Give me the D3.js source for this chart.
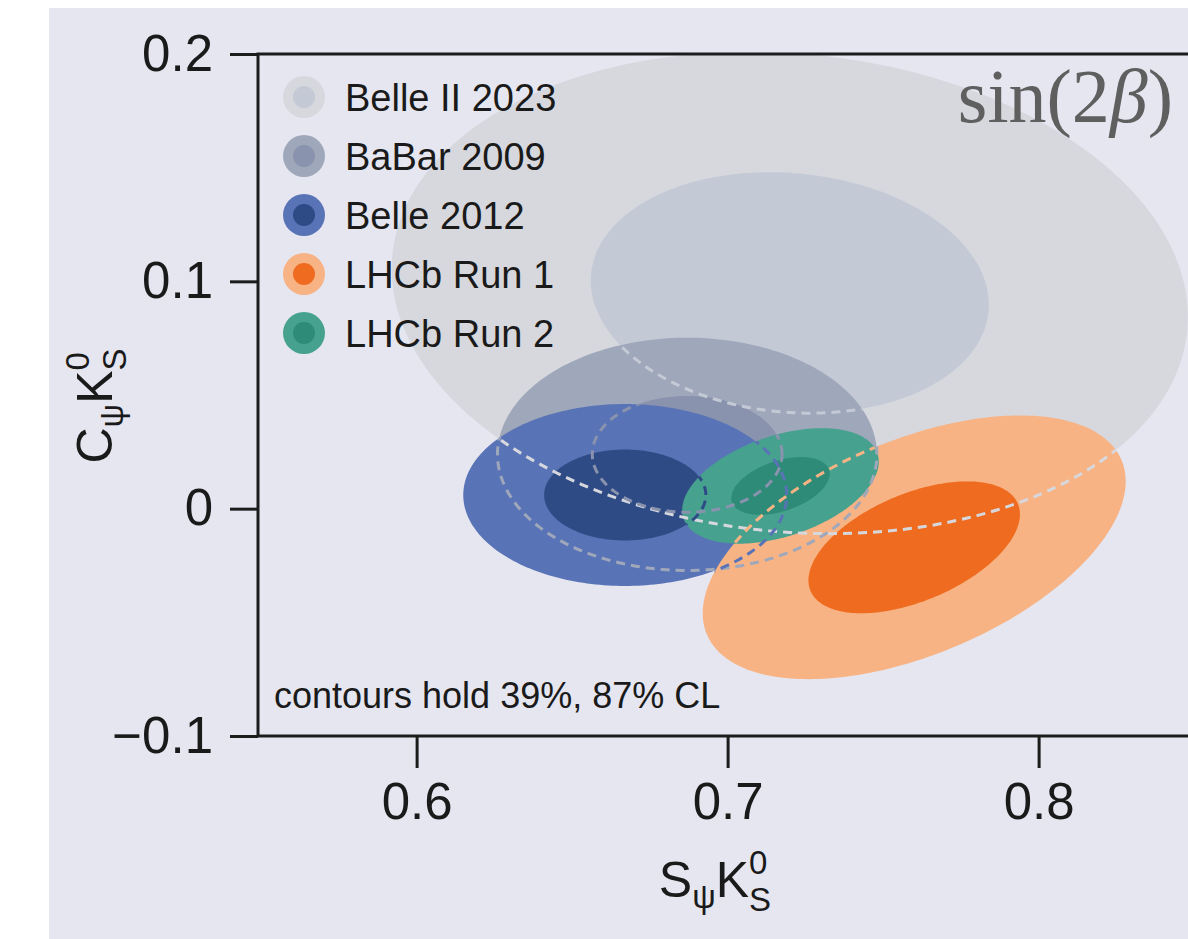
<!DOCTYPE html>
<html>
<head>
<meta charset="utf-8">
<script src="https://cdn.jsdelivr.net/npm/d3@7"></script>
<style>
  html, body { margin: 0; padding: 0; background: #ffffff; }
  svg { display: block; }
</style>
</head>
<body>
<svg id="chart" width="1188" height="939"></svg>
<script>
// Measurements of the time-dependent CP asymmetry in B0 -> (cc̄) K0S
const experiments = ["Belle II 2023", "BaBar 2009", "Belle 2012", "LHCb Run 1", "LHCb Run 2"];
const sCentre = [0.720, 0.687, 0.667, 0.760, 0.717];
const cCentre = [0.095, 0.024, 0.006, -0.017, 0.010];
const sSigma  = [0.064, 0.0305, 0.026, 0.034, 0.0158];
const cSigma  = [0.053, 0.0256, 0.020, 0.029, 0.0127];
const rhoSC   = [-0.10, 0.0, 0.0, 0.50, 0.42];

// 39% and 87% CL contours of a 2D Gaussian: 1 and 2 standard deviations
const contourLevels = [2, 1];

const outerFill = ["#d7d8de", "#9fa7ba", "#5973b7", "#f8b384", "#46a18f"];
const innerFill = ["#c4c9d6", "#8a93ae", "#2f4b86", "#ee6b1f", "#2e8b78"];

const xTicks = [0.6, 0.7, 0.8];
const yTicks = [-0.1, 0, 0.1, 0.2];
const yTickLabels = ["\u22120.1", "0", "0.1", "0.2"];
const xTickLabels = ["0.6", "0.7", "0.8"];

const svg = d3.select("#chart");
const W = 1188, H = 939;

// page background
svg.append("rect").attr("x", 0).attr("y", 0).attr("width", W).attr("height", H).attr("fill", "#ffffff");
svg.append("rect").attr("x", 49).attr("y", 8).attr("width", W - 49).attr("height", H - 8).attr("fill", "#e5e6f0");

const x = d3.scaleLinear().domain([0.549, 0.85]).range([258, 258 + 0.301 * 3110]);
const y = d3.scaleLinear().domain([-0.1, 0.2]).range([736, 54]);

const plotL = x(0.549), plotR = x(0.85), plotT = y(0.2), plotB = y(-0.1);

const defs = svg.append("defs");
defs.append("clipPath").attr("id", "plot-area")
  .append("rect").attr("x", plotL).attr("y", plotT).attr("width", plotR - plotL).attr("height", plotB - plotT);

// contour points in (S, C) space
function contourPoints(i, k) {
  const r = rhoSC[i], q = Math.sqrt(1 - r * r);
  const pts = [];
  const n = 240;
  for (let j = 0; j < n; j++) {
    const t = 2 * Math.PI * j / n;
    pts.push([
      sCentre[i] + k * sSigma[i] * Math.cos(t),
      cCentre[i] + k * cSigma[i] * (r * Math.cos(t) + q * Math.sin(t))
    ]);
  }
  return pts;
}

const line = d3.line().x(d => x(d[0])).y(d => y(d[1])).curve(d3.curveLinearClosed);

// draw order: each experiment's outer then inner contour
const contours = [];
experiments.forEach((name, i) => {
  contourLevels.forEach((k, li) => {
    contours.push({ exp: i, k, fill: li === 0 ? outerFill[i] : innerFill[i], d: line(contourPoints(i, k)) });
  });
});

const plot = svg.append("g").attr("clip-path", "url(#plot-area)");

plot.selectAll("path.fill").data(contours).join("path")
  .attr("class", "fill")
  .attr("d", d => d.d)
  .attr("fill", d => d.fill);

// hidden parts of every contour are traced with a dashed outline
contours.forEach((c, i) => {
  const later = contours.slice(i + 1);
  if (!later.length) return;
  const cp = defs.append("clipPath").attr("id", "cover-" + i);
  later.forEach(l => cp.append("path").attr("d", l.d));
  plot.append("g").attr("clip-path", "url(#cover-" + i + ")")
    .append("path")
    .attr("d", c.d)
    .attr("fill", "none")
    .attr("stroke", c.fill)
    .attr("stroke-width", 3)
    .attr("stroke-dasharray", "9 6");
});

// frame
svg.append("rect")
  .attr("x", plotL).attr("y", plotT)
  .attr("width", plotR - plotL).attr("height", plotB - plotT)
  .attr("fill", "none").attr("stroke", "#1c1c1c").attr("stroke-width", 3);

const fontSans = "'Liberation Sans', Arial, Helvetica, sans-serif";

const yAxis = svg.append("g").attr("transform", `translate(${plotL},0)`)
  .call(d3.axisLeft(y).tickValues(yTicks).tickSize(28).tickPadding(17)
    .tickFormat((d, i) => yTickLabels[i]));
const xAxis = svg.append("g").attr("transform", `translate(0,${plotB})`)
  .call(d3.axisBottom(x).tickValues(xTicks).tickSize(32).tickPadding(15)
    .tickFormat((d, i) => xTickLabels[i]));

[xAxis, yAxis].forEach(a => {
  a.select(".domain").remove();
  a.selectAll(".tick line").attr("stroke", "#1c1c1c").attr("stroke-width", 3);
  a.selectAll(".tick text").attr("fill", "#1a1a1a")
    .style("font-family", fontSans).style("font-size", "51px");
});

// axis titles built from symbol parts
function symbolLabel(g, base, sub, base2, sup, sub2) {
  let pos = 0;
  const put = (t, fs, dy) => {
    const el = g.append("text").attr("x", pos).attr("y", dy)
      .style("font-family", fontSans).style("font-size", fs + "px")
      .attr("fill", "#1a1a1a").text(t);
    return el.node().getComputedTextLength();
  };
  pos += put(base, 50, 0);
  pos += put(sub, 33, 11);
  pos += put(base2, 50, 0);
  const a = put(sup, 33, -23);
  const b = put(sub2, 33, 14);
  return pos + Math.max(a, b);
}

const xTitle = svg.append("g");
const xw = symbolLabel(xTitle, "S", "\u03c8", "K", "0", "S");
xTitle.attr("transform", `translate(${715 - xw / 2},897)`);

const yTitle = svg.append("g");
const yw = symbolLabel(yTitle, "C", "\u03c8", "K", "0", "S");
yTitle.attr("transform", `translate(112,406) rotate(-90) translate(${-yw / 2},0)`);

// corner label
const corner = svg.append("text")
  .attr("x", 1173).attr("y", 122)
  .attr("text-anchor", "end")
  .style("font-family", "'Liberation Serif', 'Times New Roman', serif")
  .style("font-size", "76px")
  .attr("fill", "#5f5f5f");
corner.append("tspan").text("sin(2");
corner.append("tspan").style("font-style", "italic").text("\u03b2");
corner.append("tspan").text(")");

// legend
const legend = svg.append("g");
experiments.forEach((name, i) => {
  const cy = 97 + i * 59;
  legend.append("circle").attr("cx", 304).attr("cy", cy).attr("r", 21).attr("fill", outerFill[i]);
  legend.append("circle").attr("cx", 304).attr("cy", cy).attr("r", 11).attr("fill", innerFill[i]);
  legend.append("text").attr("x", 345).attr("y", cy).attr("dy", "0.36em")
    .style("font-family", fontSans).style("font-size", "38px")
    .attr("fill", "#1a1a1a").text(name);
});

svg.append("text")
  .attr("x", 274).attr("y", 708)
  .style("font-family", fontSans).style("font-size", "36px")
  .attr("fill", "#1a1a1a")
  .text("contours hold 39%, 87% CL");
</script>
</body>
</html>
